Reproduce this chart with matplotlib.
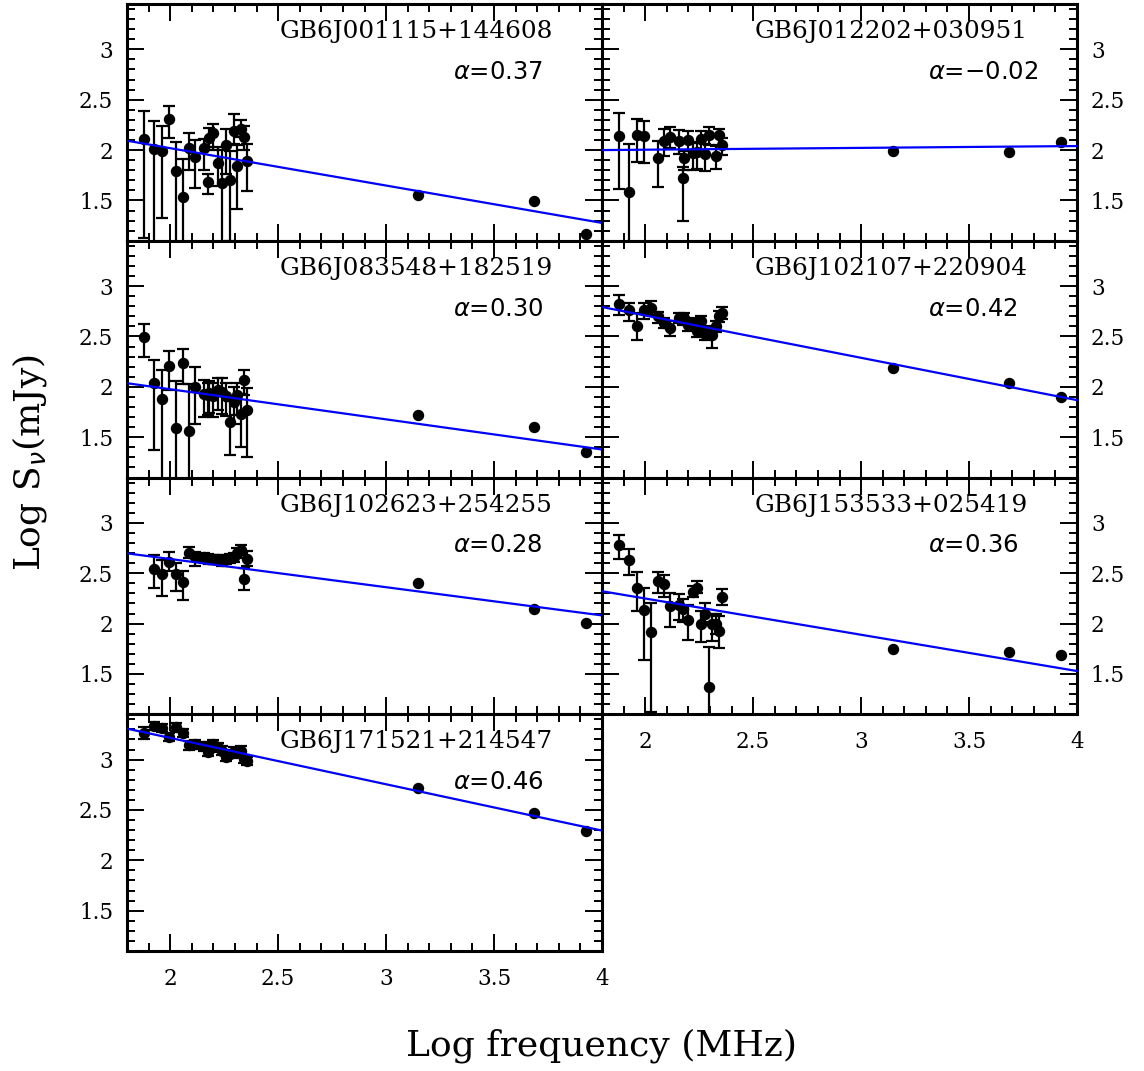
import numpy as np
import matplotlib
matplotlib.use("Agg")
import matplotlib.pyplot as plt
from matplotlib.ticker import MultipleLocator, FuncFormatter

nan = np.nan

# log frequency (MHz): GLEAM 76-227 MHz + TGSS 150 MHz, NVSS 1.4 GHz, GB6 4.85 GHz, 8.4 GHz
log_freq = [1.881, 1.924, 1.964, 1.996, 2.029, 2.061, 2.086, 2.114, 2.155, 2.176,
            2.179, 2.199, 2.220, 2.241, 2.258, 2.276, 2.294, 2.310, 2.326, 2.342,
            2.356, 3.146, 3.686, 3.924]

names = ["GB6J001115+144608", "GB6J012202+030951", "GB6J083548+182519",
         "GB6J102107+220904", "GB6J102623+254255", "GB6J153533+025419",
         "GB6J171521+214547"]
alphas = ["0.37", "\u22120.02", "0.30", "0.42", "0.28", "0.36", "0.46"]

# fitted line value at the left (log f = 1.8) and right (log f = 4) edges
fit_left = [2.093, 2.00, 2.036, 2.792, 2.697, 2.321, 3.307]
fit_right = [1.277, 2.04, 1.378, 1.868, 2.081, 1.529, 2.295]

flux_001115 = [2.11, 2.01, 1.99, 2.31, 1.79, 1.53, 2.02, 1.93, 2.02, 1.68, 2.12, 2.17,
               1.87, 1.67, 2.05, 1.70, 2.19, 1.84, 2.21, 2.13, 1.89, 1.55, 1.49, 1.17]
up_001115 = [0.28, 0.28, 0.25, 0.13, 0.29, 0.38, 0.15, 0.17, 0.09, 0.08, 0.10, 0.09,
             0.16, 0.33, 0.16, 0.29, 0.17, 0.21, 0.09, 0.11, 0.17, 0, 0, 0]
lo_001115 = [0.98, 1.00, 0.66, 0.19, 0.80, 0.60, 0.22, 0.31, 0.22, 0.12, 0.09, 0.17,
             0.23, 0.60, 0.29, 0.60, 0.13, 0.42, 0.08, 0.13, 0.30, 0, 0, 0]

flux_012202 = [2.14, 1.58, 2.15, 2.14, nan, 1.92, 2.09, 2.13, 2.09, 1.72, 1.92, 2.10,
               1.97, 1.98, 2.11, 1.96, 2.15, nan, 1.94, 2.15, 2.05, 1.99, 1.98, 2.08]
up_012202 = [0.23, 0.48, 0.16, 0.15, 0, 0.17, 0.12, 0.10, 0.11, 0.11, 0.07, 0.09,
             0.10, 0.10, 0.08, 0.10, 0.08, 0, 0.10, 0.06, 0.07, 0, 0, 0]
lo_012202 = [0.53, 0.60, 0.27, 0.27, 0, 0.29, 0.15, 0.11, 0.13, 0.42, 0.12, 0.11,
             0.17, 0.17, 0.12, 0.17, 0.10, 0, 0.13, 0.10, 0.10, 0, 0, 0]

flux_083548 = [2.49, 2.04, 1.88, 2.21, 1.59, 2.24, 1.56, 2.00, 1.93, 1.92, 1.94, 1.91,
               1.97, 1.95, 1.91, 1.65, 1.85, 1.92, 1.73, 2.07, 1.77, 1.72, 1.60, 1.35]
up_083548 = [0.13, 0.23, 0.29, 0.15, 0.47, 0.14, 0.47, 0.20, 0.14, 0.12, 0.12, 0.13,
             0.12, 0.14, 0.13, 0.21, 0.15, 0.12, 0.20, 0.10, 0.22, 0, 0, 0]
lo_083548 = [0.19, 0.67, 0.80, 0.24, 0.60, 0.21, 0.60, 0.37, 0.23, 0.20, 0.20, 0.21,
             0.20, 0.22, 0.20, 0.33, 0.22, 0.20, 0.33, 0.15, 0.47, 0, 0, 0]

flux_102107 = [2.82, 2.76, 2.60, 2.76, 2.78, 2.70, 2.63, 2.58, 2.68, 2.66, 2.68, 2.61,
               2.63, 2.55, 2.65, 2.52, 2.55, 2.51, 2.60, 2.70, 2.73, 2.19, 2.04, 1.90]
up_102107 = [0.09, 0.07, 0.13, 0.07, 0.07, 0.04, 0.05, 0.07, 0.05, 0.05, 0.05, 0.05,
             0.05, 0.05, 0.05, 0.05, 0.05, 0.05, 0.05, 0.05, 0.06, 0, 0, 0]
lo_102107 = [0.11, 0.11, 0.14, 0.09, 0.07, 0.07, 0.05, 0.08, 0.05, 0.05, 0.05, 0.06,
             0.06, 0.06, 0.06, 0.06, 0.06, 0.12, 0.06, 0.06, 0.06, 0, 0, 0]

flux_102623 = [nan, 2.54, 2.49, 2.61, 2.49, 2.41, 2.70, 2.66, 2.66, 2.65, 2.64, 2.64,
               2.64, 2.62, 2.64, 2.65, 2.66, 2.70, 2.73, 2.44, 2.64, 2.40, 2.14, 2.01]
up_102623 = [0, 0.14, 0.14, 0.10, 0.11, 0.11, 0.06, 0.05, 0.04, 0.04, 0.04, 0.04,
             0.04, 0.04, 0.04, 0.04, 0.04, 0.05, 0.05, 0.11, 0.08, 0, 0, 0]
lo_102623 = [0, 0.19, 0.22, 0.09, 0.17, 0.18, 0.05, 0.09, 0.05, 0.05, 0.05, 0.05,
             0.05, 0.05, 0.05, 0.05, 0.05, 0.05, 0.05, 0.11, 0.07, 0, 0, 0]

flux_153533 = [2.78, 2.63, 2.35, 2.13, 1.92, 2.42, 2.39, 2.17, 2.18, 2.14, nan, 2.04,
               2.31, 2.35, 2.00, 2.10, 1.37, 2.00, 2.00, 1.93, 2.26, 1.75, 1.72, 1.69]
up_153533 = [0.10, 0.11, 0.16, 0.22, 0.28, 0.09, 0.09, 0.13, 0.11, 0.10, 0, 0.14,
             0.06, 0.07, 0.12, 0.10, 0.40, 0.10, 0.10, 0.15, 0.08, 0, 0, 0]
lo_153533 = [0.14, 0.15, 0.23, 0.49, 0.80, 0.12, 0.13, 0.20, 0.14, 0.12, 0, 0.20,
             0.05, 0.05, 0.18, 0.08, 0.60, 0.17, 0.10, 0.17, 0.08, 0, 0, 0]

flux_171521 = [3.26, 3.33, 3.31, 3.22, 3.32, 3.26, 3.14, 3.15, 3.13, 3.08, 3.12, 3.15,
               3.12, 3.09, 3.03, 3.06, 3.08, 3.07, 3.09, 3.01, 2.99, 2.72, 2.47, 2.29]
up_171521 = [0.06, 0.04, 0.04, 0.04, 0.04, 0.04, 0.04, 0.04, 0.04, 0.04, 0.04, 0.04,
             0.04, 0.04, 0.04, 0.04, 0.04, 0.04, 0.04, 0.04, 0.04, 0, 0, 0]
lo_171521 = [0.06, 0.04, 0.04, 0.04, 0.04, 0.04, 0.04, 0.04, 0.04, 0.04, 0.04, 0.04,
             0.04, 0.04, 0.04, 0.04, 0.04, 0.04, 0.04, 0.04, 0.04, 0, 0, 0]

fluxes = [flux_001115, flux_012202, flux_083548, flux_102107, flux_102623, flux_153533, flux_171521]
ups = [up_001115, up_012202, up_083548, up_102107, up_102623, up_153533, up_171521]
los = [lo_001115, lo_012202, lo_083548, lo_102107, lo_102623, lo_153533, lo_171521]

xlim = (1.8, 4.0)
ylim = (1.1, 3.45)
xticks = [2, 2.5, 3, 3.5, 4]
yticks = [1.5, 2, 2.5, 3]

W, H = 1144, 1071
fig = plt.figure(figsize=(W / 100, H / 100), dpi=100)

col_left = [127, 602]
col_w = 475
row_top0 = 4
row_h = 236.75

serif = "DejaVu Serif"
fmt = FuncFormatter(lambda v, p: "%g" % v)

for i in range(7):
    row, col = divmod(i, 2)
    left = col_left[col] / W
    bottom = 1 - (row_top0 + (row + 1) * row_h) / H
    ax = fig.add_axes([left, bottom, col_w / W, row_h / H])

    x = np.array(log_freq)
    y = np.array(fluxes[i], dtype=float)
    up = np.array(ups[i], dtype=float)
    lo = np.array(los[i], dtype=float)
    m = (~np.isnan(y)) & ((up > 0) | (lo > 0))
    ax.errorbar(x[m], y[m], yerr=[lo[m], up[m]], fmt="none", ecolor="black",
                elinewidth=1.6, capsize=4, capthick=1.6, zorder=2)
    ok = ~np.isnan(y)
    ax.plot(x[ok], y[ok], "o", color="black", ms=7.2, zorder=3)
    ax.plot(list(xlim), [fit_left[i], fit_right[i]], color="#0000ff", lw=1.6, zorder=4)

    ax.set_xlim(*xlim)
    ax.set_ylim(*ylim)
    ax.set_xticks(xticks)
    ax.set_yticks(yticks)
    ax.xaxis.set_minor_locator(MultipleLocator(0.1))
    ax.yaxis.set_minor_locator(MultipleLocator(0.1))
    ax.xaxis.set_major_formatter(fmt)
    ax.yaxis.set_major_formatter(fmt)
    ax.tick_params(which="both", direction="in", top=True, right=True,
                   bottom=True, left=True, width=1.4, color="black")
    ax.tick_params(which="major", length=12)
    ax.tick_params(which="minor", length=6)
    show_x = (i == 5) or (i == 6)
    ax.tick_params(axis="x", labelbottom=show_x, labelsize=15.5, pad=12)
    if col == 0:
        ax.tick_params(axis="y", labelleft=True, labelright=False, labelsize=15.5, pad=10)
    else:
        ax.tick_params(axis="y", labelleft=False, labelright=True, labelsize=15.5, pad=10)
    for lab in ax.get_xticklabels() + ax.get_yticklabels():
        lab.set_family(serif)
    for sp in ax.spines.values():
        sp.set_linewidth(2.2)

    ax.text(0.322, 0.883, names[i], transform=ax.transAxes, ha="left", va="center",
            fontsize=17.8, family=serif)
    ax.text(0.686, 0.713, "$\\alpha$=" + alphas[i], transform=ax.transAxes,
            ha="left", va="center", fontsize=17.5, family="DejaVu Sans")

fig.text(602 / W, 1 - 1046 / H, "Log frequency (MHz)", ha="center", va="center",
         fontsize=26, family=serif)
fig.text(30 / W, 1 - 462 / H, "Log S$_\\nu$(mJy)", ha="center", va="center",
         rotation=90, fontsize=26, family=serif)

fig.savefig("out.png", dpi=100)
